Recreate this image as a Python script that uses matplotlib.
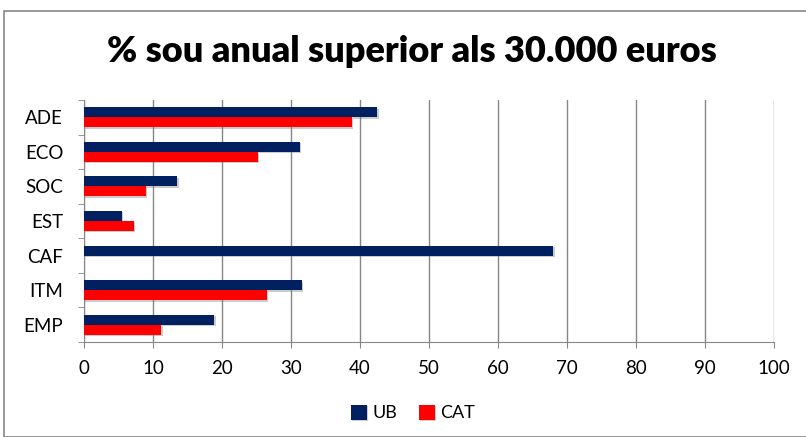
import matplotlib
matplotlib.use("Agg")
import matplotlib.pyplot as plt
import matplotlib.patheffects as pe
from matplotlib.patches import Rectangle
import numpy as np

plt.rcParams['font.family'] = ['Lato', 'DejaVu Sans']

# data, top to bottom as shown
categories = ['ADE', 'ECO', 'SOC', 'EST', 'CAF', 'ITM', 'EMP']
ub_values  = [42.5, 31.3, 13.5, 5.5, 68.0, 31.6, 18.9]
cat_values = [38.8, 25.2, 9.0, 7.2, 0.0, 26.5, 11.2]

ub_color = '#002060'
cat_color = '#FF0000'

fig = plt.figure(figsize=(8.06, 4.37), dpi=100)
ax = fig.add_axes([84/806, 1 - 342/437, 690/806, 242/437])

n = len(categories)
y = np.arange(n)[::-1]
h = 0.29
shadow = [pe.SimplePatchShadow(offset=(1.0, -1.0), shadow_rgbFace='gray', alpha=0.4), pe.Normal()]
ax.barh(y + h/2, ub_values, height=h, color=ub_color, label='UB', path_effects=shadow, zorder=3)
ax.barh(y - h/2, cat_values, height=h, color=cat_color, label='CAT', path_effects=shadow, zorder=3)

ax.set_xlim(0, 100)
ax.set_ylim(-0.5, n - 0.5)
ax.set_xticks(range(0, 101, 10))
ax.tick_params(axis='x', labelsize=13.5, length=4, color='#868686', pad=9)
ax.grid(axis='x', color='#868686', linewidth=1, zorder=0)

ax.set_yticks(y)
ax.set_yticklabels(categories)
ax.set_yticks(np.arange(n + 1) - 0.5, minor=True)
ax.tick_params(axis='y', which='major', length=0, labelsize=13.5, pad=15)
ax.tick_params(axis='y', which='minor', length=4, color='#868686')

for s in ['top', 'right']:
    ax.spines[s].set_visible(False)
for s in ['left', 'bottom']:
    ax.spines[s].set_color('#868686')

fig.text(412/806, 1 - 52/437, '% sou anual superior als 30.000 euros',
         ha='center', va='center', fontsize=26, fontweight='heavy')

fig.legend(loc='center', bbox_to_anchor=(413/806, 1 - 413/437), ncol=2, frameon=False,
           fontsize=13, handlelength=0.9, handleheight=0.9, handletextpad=0.3,
           columnspacing=1.2)

# outer chart frame
fig.patches.append(Rectangle((4/806, 0), 1, 1 - 11/437, transform=fig.transFigure,
                             fill=False, edgecolor='#868686', linewidth=1.2))

fig.savefig('out.png', dpi=100)
